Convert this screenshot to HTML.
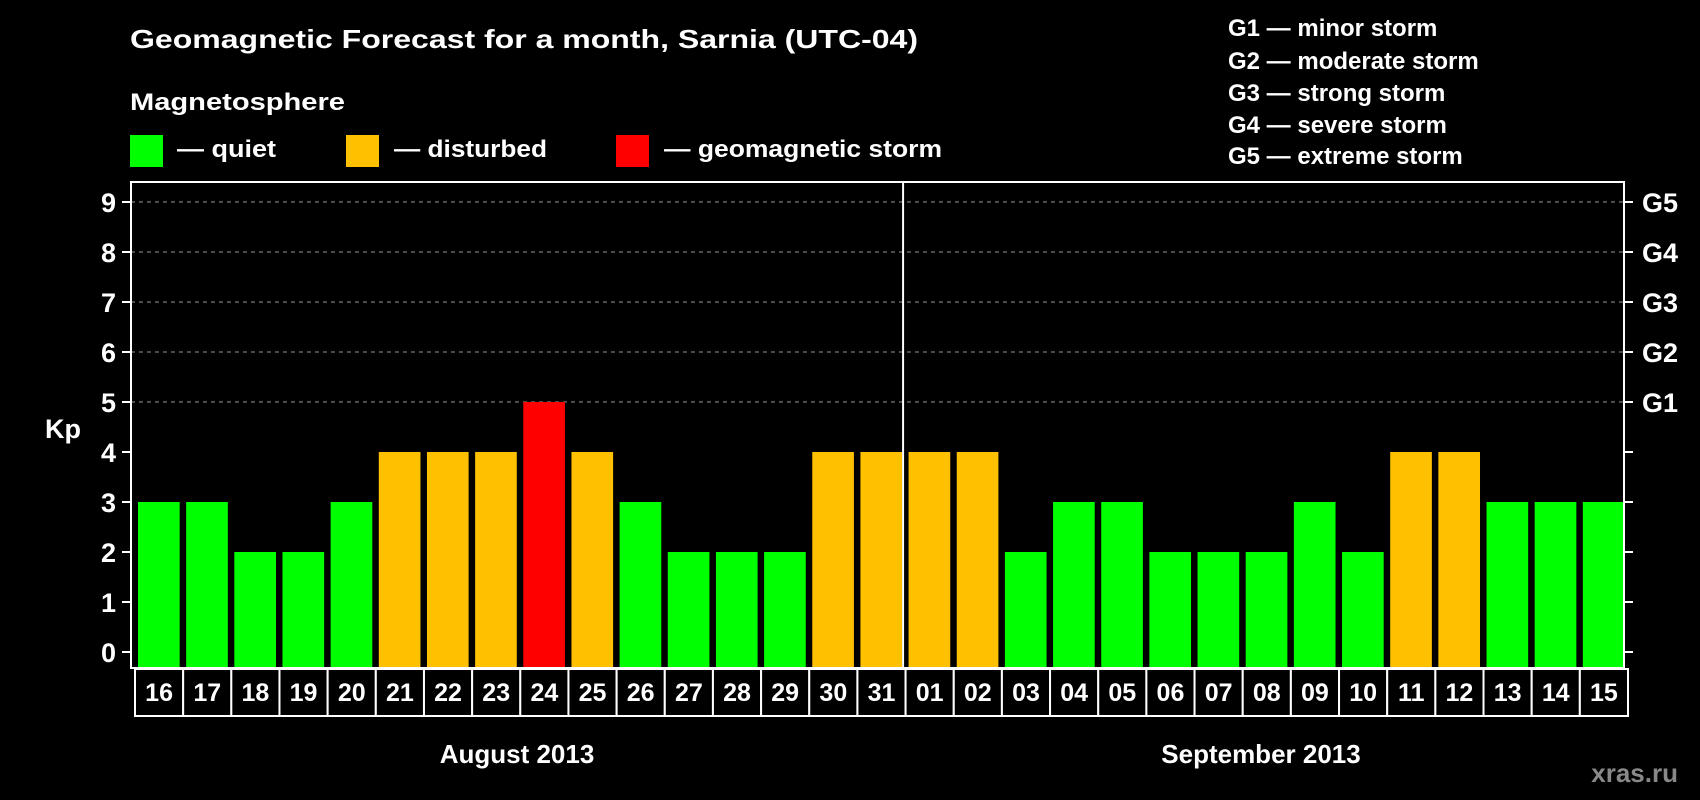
<!DOCTYPE html>
<html><head><meta charset="utf-8"><style>
html,body{margin:0;padding:0;background:#000;}
svg{display:block;font-family:"Liberation Sans",Arial,sans-serif;font-weight:bold;}
</style></head><body>
<svg id="chart" width="1700" height="800" viewBox="0 0 1700 800">
<rect x="0" y="0" width="1700" height="800" fill="#000"/>
<text x="130" y="48" font-size="26" fill="#fff" textLength="788" lengthAdjust="spacingAndGlyphs">Geomagnetic Forecast for a month, Sarnia (UTC-04)</text>
<text x="130" y="110" font-size="24" fill="#fff" textLength="215" lengthAdjust="spacingAndGlyphs">Magnetosphere</text>
<g>
<rect x="130" y="135" width="33" height="32" fill="#00ff00"/>
<text x="177" y="157" font-size="24" fill="#fff" textLength="99" lengthAdjust="spacingAndGlyphs">— quiet</text>
</g>
<g>
<rect x="346" y="135" width="33" height="32" fill="#ffc000"/>
<text x="394" y="157" font-size="24" fill="#fff" textLength="153" lengthAdjust="spacingAndGlyphs">— disturbed</text>
</g>
<g>
<rect x="616" y="135" width="33" height="32" fill="#ff0000"/>
<text x="664" y="157" font-size="24" fill="#fff" textLength="278" lengthAdjust="spacingAndGlyphs">— geomagnetic storm</text>
</g>
<g font-size="24" fill="#fff">
<text x="1228" y="36">G1 — minor storm</text>
<text x="1228" y="69">G2 — moderate storm</text>
<text x="1228" y="101">G3 — strong storm</text>
<text x="1228" y="133">G4 — severe storm</text>
<text x="1228" y="164">G5 — extreme storm</text>
</g>
<g id="plot"></g>
<text x="517" y="763" font-size="26" fill="#fff" text-anchor="middle">August 2013</text>
<text x="1261" y="763" font-size="26" fill="#fff" text-anchor="middle">September 2013</text>
<text x="63" y="438" font-size="27" fill="#fff" text-anchor="middle">Kp</text>
<text x="1678" y="782" font-size="26" fill="#888" text-anchor="end">xras.ru</text>
</svg>
<script>
const days = ["16","17","18","19","20","21","22","23","24","25","26","27","28","29","30","31","01","02","03","04","05","06","07","08","09","10","11","12","13","14","15"];
const kpValues = [3,3,2,2,3,4,4,4,5,4,3,2,2,2,4,4,4,4,2,3,3,2,2,2,3,2,4,4,3,3,3];
const yTicks = [0,1,2,3,4,5,6,7,8,9];
const gLabels = ["G1","G2","G3","G4","G5"];
const gLevels = [5,6,7,8,9];

const NS = "http://www.w3.org/2000/svg";
const plot = document.getElementById('plot');
const L = 131, R = 1624, T = 182, B = 668;
const y0 = 652, unit = 50;
const pitch = (R - L) / days.length;
function yScale(v){ return y0 - v * unit; }
function xScale(i){ return L + i * pitch; }
function mk(tag, attrs){ const e = document.createElementNS(NS, tag); for (const k in attrs) e.setAttribute(k, attrs[k]); plot.appendChild(e); return e; }
function color(v){ return v >= 5 ? "#ff0000" : (v >= 4 ? "#ffc000" : "#00ff00"); }

// gridlines
yTicks.forEach(t => {
  if (t >= 5) {
    const g = mk('line', {x1: L, x2: R, y1: yScale(t), y2: yScale(t), stroke: "#999", "stroke-width": 1, "stroke-dasharray": "4,4"});
    
    
  }
  const tk = mk('line', {x1: L - 9, x2: L, y1: yScale(t), y2: yScale(t), stroke: "#fff", "stroke-width": 2});
  
  
  const tr = mk('line', {x1: R, x2: R + 9, y1: yScale(t), y2: yScale(t), stroke: "#fff", "stroke-width": 2});
  
  
  const lb = mk('text', {x: 116, y: yScale(t) + 10, "font-size": 27, fill: "#fff", "text-anchor": "end"});
  lb.textContent = t;
  
  
});
gLabels.forEach((g, i) => {
  const lb = mk('text', {x: 1642, y: yScale(gLevels[i]) + 10, "font-size": 27, fill: "#fff"});
  lb.textContent = g;
  
  
});

// bars
kpValues.forEach((v, i) => {
  const x = xScale(i) + 7;
  const r = mk('rect', {x: x, y: yScale(v), width: pitch - 6.5, height: B - yScale(v), fill: color(v)});
  
  
});

// frame
const fr = mk('rect', {x: L, y: T, width: R - L, height: B - T, fill: "none", stroke: "#fff", "stroke-width": 2});


const dv = mk('line', {x1: xScale(16) + 1.5, x2: xScale(16) + 1.5, y1: T, y2: B, stroke: "#fff", "stroke-width": 2});



// day label cells
days.forEach((d, i) => {
  const x = xScale(i) + 4;
  const c = mk('rect', {x: x, y: 669, width: pitch, height: 47, fill: "#000", stroke: "#fff", "stroke-width": 2});
  
  
  const t = mk('text', {x: x + pitch / 2, y: 701, "font-size": 25, fill: "#fff", "text-anchor": "middle"});
  t.textContent = d;
  
  
});
</script>
</body></html>
